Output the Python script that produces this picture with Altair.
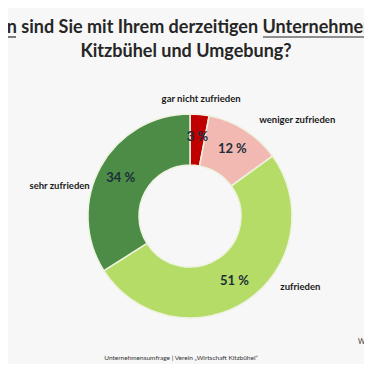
import altair as alt
import pandas as pd
import math

categories = ["gar nicht zufrieden", "weniger zufrieden", "zufrieden", "sehr zufrieden"]
values = [3, 12, 51, 34]
pct_labels = ["3 %", "12 %", "51 %", "34 %"]
colors = ["#c00000", "#f2b8b2", "#b4dc66", "#4c8c46"]
title_lines = ["Wie zufrieden sind Sie mit Ihrem derzeitigen Unternehmensstandort in",
               "Kitzbühel und Umgebung?"]
footer = "Unternehmensumfrage | Verein „Wirtschaft Kitzbühel“"
side_note = "Wer"

df = pd.DataFrame({"cat": categories, "value": values, "pct": pct_labels,
                   "idx": list(range(len(categories)))})

CX, CY = 182, 208
FONT = "Lato"
TH = alt.Scale(domain=[0, 1], range=[0, 2 * math.pi])

base = alt.Chart(df).transform_window(
    cum="sum(value)", sort=[alt.SortField("idx")]
).transform_joinaggregate(
    total="sum(value)"
).transform_calculate(
    start="(datum.cum - datum.value) / datum.total",
    end="datum.cum / datum.total",
    mid="(datum.cum - datum.value / 2) / datum.total",
)

arcs = base.mark_arc(radius=102, radius2=51, stroke="#eef3e0", strokeWidth=1.5).encode(
    theta=alt.Theta("start:Q", scale=TH), theta2="end:Q",
    x=alt.value(CX), y=alt.value(CY),
    color=alt.Color("cat:N", scale=alt.Scale(domain=categories, range=colors), legend=None)
)

pct = base.mark_text(radius=79, fontSize=13, fontWeight="bold", font=FONT,
                     color="#1e2f3a").encode(
    theta=alt.Theta("mid:Q", scale=TH), text="pct:N",
    x=alt.value(CX), y=alt.value(CY))

offsets = {"gar nicht zufrieden": (0, 0), "weniger zufrieden": (44, 4),
           "zufrieden": (44, -27), "sehr zufrieden": (-27, 27)}
outer_layers = []
for c in categories:
    dx, dy = offsets[c]
    outer_layers.append(
        base.transform_filter(alt.datum.cat == c).mark_text(
            radius=118, fontSize=9.5, fontWeight="bold", font=FONT, color="#1a1a1a",
            dx=dx, dy=dy).encode(
            theta=alt.Theta("mid:Q", scale=TH),
            text="cat:N", x=alt.value(CX), y=alt.value(CY))
    )

t1 = alt.Chart(pd.DataFrame({"t": [title_lines[0]]})).mark_text(
    fontSize=18, fontWeight="bold", font=FONT, color="#262626", baseline="alphabetic"
).encode(text="t:N", x=alt.value(178), y=alt.value(25))
t2 = alt.Chart(pd.DataFrame({"t": [title_lines[1]]})).mark_text(
    fontSize=18, fontWeight="bold", font=FONT, color="#262626", baseline="alphabetic"
).encode(text="t:N", x=alt.value(178), y=alt.value(49))

ul1 = alt.Chart(pd.DataFrame({"t": [0]})).mark_rule(color="#262626", strokeWidth=1.2).encode(
    x=alt.value(-8), x2=alt.value(8), y=alt.value(29))
ul2 = alt.Chart(pd.DataFrame({"t": [0]})).mark_rule(color="#262626", strokeWidth=1.2).encode(
    x=alt.value(255), x2=alt.value(364), y=alt.value(29))

foot = alt.Chart(pd.DataFrame({"t": [footer]})).mark_text(
    fontSize=6.5, font=FONT, color="#333333"
).encode(text="t:N", x=alt.value(173), y=alt.value(350))
note = alt.Chart(pd.DataFrame({"t": [side_note]})).mark_text(
    fontSize=7, font=FONT, color="#333333", align="left"
).encode(text="t:N", x=alt.value(350), y=alt.value(334))

chart = alt.layer(arcs, pct, *outer_layers, t1, t2, ul1, ul2, foot, note).properties(
    width=356, height=356, padding=0,
    autosize=alt.AutoSizeParams(type="none"),
    background="#f7f7f7",
).configure_view(stroke=None)

chart.save("out.html", embed_options={"renderer": "svg", "actions": False})
